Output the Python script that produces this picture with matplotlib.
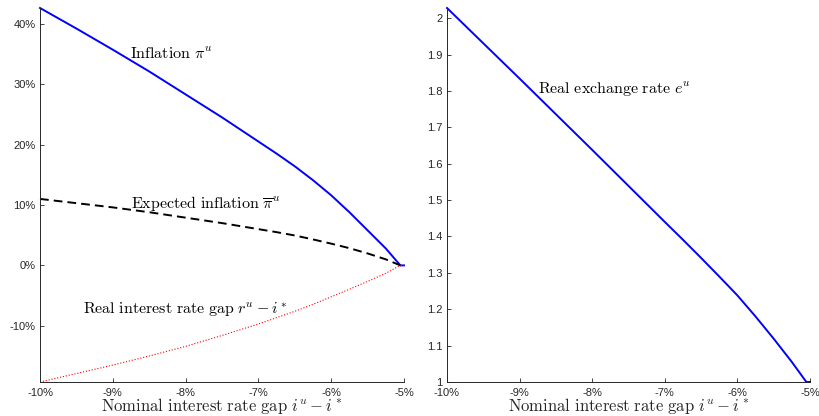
import matplotlib
matplotlib.use("Agg")
import matplotlib.pyplot as plt

plt.rcParams['mathtext.fontset'] = 'cm'
plt.rcParams['font.family'] = ['Liberation Sans', 'DejaVu Sans']

# Nominal interest rate gap (percent)
gap = [-10, -9.5, -9, -8.5, -8, -7.5, -7, -6.75, -6.5, -6.25, -6, -5.75, -5.5, -5.25, -5.05, -5.0]
inflation = [42.6, 39.2, 35.7, 32.1, 28.3, 24.5, 20.5, 18.5, 16.4, 14.1, 11.6, 8.8, 5.8, 2.8, 0.0, 0.0]
expected_inflation = [11.0, 10.3, 9.6, 8.8, 7.9, 7.0, 6.0, 5.5, 4.95, 4.3, 3.6, 2.85, 1.98, 1.0, 0.0, 0.0]
real_rate_gap = [-19.3, -17.9, -16.5, -15.0, -13.4, -11.6, -9.7, -8.65, -7.6, -6.45, -5.2, -3.95, -2.65, -1.3, 0.0, 0.0]
real_exchange_rate = [2.028, 1.931, 1.834, 1.736, 1.638, 1.539, 1.440, 1.391, 1.341, 1.290, 1.238,
                      1.180, 1.119, 1.055, 1.0, 1.0]

xticks = [-10, -9, -8, -7, -6, -5]
xticklabels = ['-10%', '-9%', '-8%', '-7%', '-6%', '-5%']
yticks_left = [-10, 0, 10, 20, 30, 40]
yticklabels_left = ['-10%', '0%', '10%', '20%', '30%', '40%']
yticks_right = [1.0, 1.1, 1.2, 1.3, 1.4, 1.5, 1.6, 1.7, 1.8, 1.9, 2.0]
yticklabels_right = ['1', '1.1', '1.2', '1.3', '1.4', '1.5', '1.6', '1.7', '1.8', '1.9', '2']

W, H = 819, 416
fig = plt.figure(figsize=(W / 100, H / 100), dpi=100)
ax1 = fig.add_axes([40 / W, 1 - 382 / H, (404 - 40) / W, (382 - 8) / H])
ax2 = fig.add_axes([447 / W, 1 - 382 / H, (810 - 447) / W, (382 - 8) / H])

axcol = '#262626'
xlabel = r'$\mathrm{Nominal\ interest\ rate\ gap}\ i^u - i^*$'

for ax in (ax1, ax2):
    for s in ('top', 'right'):
        ax.spines[s].set_visible(False)
    for s in ('left', 'bottom'):
        ax.spines[s].set_color(axcol)
        ax.spines[s].set_linewidth(0.7)
    ax.tick_params(direction='in', length=3, width=0.6, color=axcol,
                   labelcolor=axcol, labelsize=8)
    ax.tick_params(axis='x', pad=4)
    ax.tick_params(axis='y', pad=3)
    ax.set_xlim(-10, -5)
    ax.set_xticks(xticks)
    ax.set_xticklabels(xticklabels)
    ax.set_xlabel(xlabel, fontsize=12, labelpad=-1, color='#262626')

ax1.plot(gap, inflation, color='#0000ff', lw=1.4, clip_on=False)
ax1.plot(gap, expected_inflation, color='black', lw=1.4, dashes=(4.5, 2.6), clip_on=False)
ax1.plot(gap, real_rate_gap, color='#ff0000', lw=0.8, ls=':', clip_on=False)
ax1.set_ylim(-19.3, 42.6)
ax1.set_yticks(yticks_left)
ax1.set_yticklabels(yticklabels_left)
ax1.text(-8.76, 34.9, r'$\mathrm{Inflation}\ \pi^u$', fontsize=11.5, va='center', ha='left')
ax1.text(-8.75, 10.3, r'$\mathrm{Expected\ inflation}\ \overline{\pi}^u$', fontsize=11.5, va='center', ha='left')
ax1.text(-9.41, -7.4, r'$\mathrm{Real\ interest\ rate\ gap}\ r^u - i^*$', fontsize=11.5, va='center', ha='left')

ax2.plot(gap, real_exchange_rate, color='#0000ff', lw=1.4, clip_on=False)
ax2.set_ylim(1.0, 2.028)
ax2.set_yticks(yticks_right)
ax2.set_yticklabels(yticklabels_right)
ax2.text(-8.75, 1.803, r'$\mathrm{Real\ exchange\ rate}\ e^u$', fontsize=11.5, va='center', ha='left')

fig.savefig('out.png', dpi=100)
